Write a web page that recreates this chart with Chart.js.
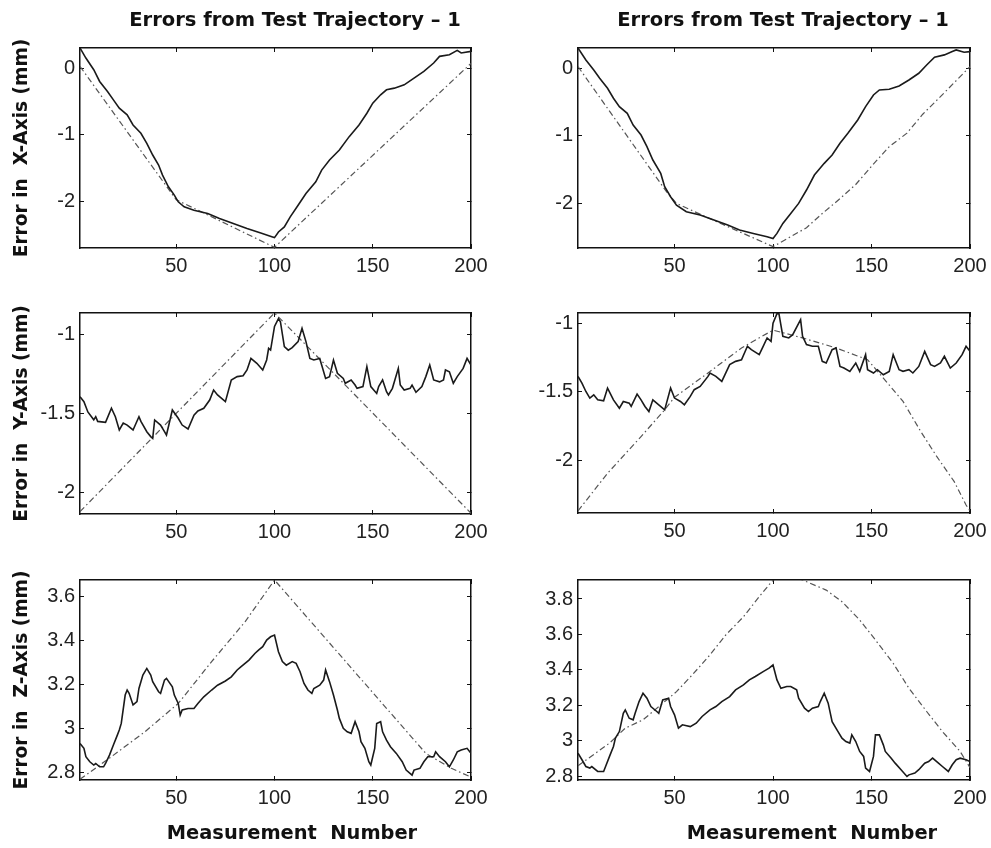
<!DOCTYPE html>
<html>
<head>
<meta charset="utf-8">
<script src="https://cdn.jsdelivr.net/npm/chart.js@4.4.1/dist/chart.umd.min.js"></script>
<style>
  html, body { margin: 0; padding: 0; background: #fff; }
  #fig { position: relative; width: 991px; height: 848px; overflow: hidden; }
  canvas { position: absolute; }
  .lbl { position: absolute; font-family: 'DejaVu Sans', sans-serif; font-weight: bold; color: #111;
         white-space: pre; transform: translate(-50%, -50%); line-height: 1; }
</style>
</head>
<body>
<div id="fig">
  <canvas id="xLeft"></canvas>
  <canvas id="xRight"></canvas>
  <canvas id="yLeft"></canvas>
  <canvas id="yRight"></canvas>
  <canvas id="zLeft"></canvas>
  <canvas id="zRight"></canvas>
  <div class="lbl" style="left:295px; top:20px; font-size:19.5px">Errors from Test Trajectory – 1</div>
  <div class="lbl" style="left:783px; top:20px; font-size:19.5px">Errors from Test Trajectory – 1</div>
  <div class="lbl" style="left:292px; top:833px; font-size:19.4px">Measurement  Number</div>
  <div class="lbl" style="left:812px; top:833px; font-size:19.4px">Measurement  Number</div>
</div>
<script>
// measurement number ticks (shared by all panels)
const measurementTicks = [50, 100, 150, 200];
const errXTicks = [-2, -1, 0];
const errYTicks = [-2, -1.5, -1];
const errZTicksLeft = [2.8, 3, 3.2, 3.4, 3.6];
const errZTicksRight = [2.8, 3, 3.2, 3.4, 3.6, 3.8];

const errXMeasuredLeft = [[1,0.3],[4,0.15],[8,-0.025],[11,-0.2],[15,-0.35],[18,-0.475],[21,-0.6],[25,-0.7],[28,-0.85],[32,-0.975],
  [35,-1.125],[38,-1.3],[41,-1.45],[43,-1.6],[46,-1.775],[49,-1.9],[51,-2.0],[54,-2.075],[59,-2.125],[66,-2.175],[72,-2.25],
  [79,-2.325],[86,-2.4],[93,-2.465],[99,-2.525],[100,-2.535],[102,-2.45],[105,-2.375],[108,-2.225],[112,-2.05],[116,-1.875],
  [121,-1.7],[124,-1.525],[128,-1.375],[133,-1.225],[138,-1.025],[143,-0.85],[147,-0.675],[150,-0.525],[154,-0.4],[157,-0.325],
  [161,-0.3],[166,-0.25],[171,-0.15],[176,-0.05],[181,0.075],[184,0.175],[189,0.2],[193,0.265],[195,0.225],[200,0.25]];
const errXReferenceLeft = [[1,0.025],[50,-1.97],[60,-2.11],[100,-2.68],[200,0.07]];

const errXMeasuredRight = [[1,0.3],[5,0.123],[9,-0.025],[12,-0.148],[16,-0.296],[19,-0.444],[22,-0.568],[26,-0.667],[29,-0.84],
  [33,-0.988],[36,-1.16],[39,-1.358],[43,-1.556],[45,-1.753],[48,-1.901],[51,-2.025],[56,-2.123],[63,-2.173],[70,-2.247],
  [77,-2.321],[83,-2.395],[90,-2.444],[97,-2.494],[100,-2.519],[102,-2.444],[105,-2.296],[109,-2.148],[113,-2.0],[117,-1.802],
  [121,-1.58],[126,-1.407],[130,-1.284],[134,-1.111],[138,-0.963],[143,-0.765],[147,-0.568],[151,-0.395],[154,-0.321],
  [159,-0.311],[164,-0.262],[169,-0.173],[174,-0.074],[178,0.049],[182,0.163],[187,0.198],[191,0.247],[193,0.272],[197,0.237],[200,0.247]];
const errXReferenceRight = [[1,0.025],[46,-1.83],[51,-2.0],[66,-2.2],[83,-2.42],[100,-2.64],[117,-2.36],[125,-2.15],[134,-1.93],
  [142,-1.72],[150,-1.45],[159,-1.16],[168,-0.96],[176,-0.68],[185,-0.42],[200,0.025]];

const errYMeasuredLeft = [[1,-1.394],[3,-1.425],[5,-1.49],[8,-1.54],[9,-1.52],[10,-1.55],[14,-1.556],[17,-1.467],[19,-1.52],
  [21,-1.604],[23,-1.56],[25,-1.573],[28,-1.604],[31,-1.52],[32,-1.55],[35,-1.615],[37,-1.646],[38,-1.657],[39,-1.541],
  [42,-1.573],[44,-1.615],[45,-1.636],[48,-1.478],[51,-1.53],[53,-1.573],[56,-1.598],[59,-1.51],[61,-1.484],[64,-1.467],
  [67,-1.415],[69,-1.352],[71,-1.383],[75,-1.425],[78,-1.288],[81,-1.267],[84,-1.261],[86,-1.225],[88,-1.152],[91,-1.183],
  [94,-1.225],[96,-1.162],[97,-1.088],[98,-1.099],[100,-0.95],[102,-0.9],[103,-0.92],[105,-1.078],[107,-1.1],[109,-1.084],
  [112,-1.046],[114,-0.962],[116,-1.046],[118,-1.152],[120,-1.162],[123,-1.152],[124,-1.194],[126,-1.278],[128,-1.267],
  [130,-1.162],[132,-1.246],[135,-1.278],[136,-1.309],[139,-1.288],[141,-1.32],[142,-1.341],[145,-1.33],[147,-1.204],
  [149,-1.33],[152,-1.373],[153,-1.33],[155,-1.288],[157,-1.362],[158,-1.383],[160,-1.341],[163,-1.215],[164,-1.32],
  [166,-1.352],[169,-1.341],[170,-1.32],[172,-1.366],[175,-1.33],[177,-1.267],[179,-1.194],[181,-1.288],[184,-1.3],
  [186,-1.288],[187,-1.225],[189,-1.236],[191,-1.309],[193,-1.267],[196,-1.215],[198,-1.152],[200,-1.194]];
const errYReferenceLeft = [[1,-2.12],[100,-0.865],[200,-2.13]];

const errYMeasuredRight = [[1,-1.388],[3,-1.437],[5,-1.498],[7,-1.546],[9,-1.522],[11,-1.559],[14,-1.566],[16,-1.473],
  [19,-1.559],[22,-1.62],[24,-1.571],[27,-1.583],[28,-1.607],[31,-1.517],[33,-1.559],[35,-1.607],[37,-1.644],[39,-1.559],
  [42,-1.595],[45,-1.632],[48,-1.473],[50,-1.546],[53,-1.571],[55,-1.595],[58,-1.534],[60,-1.485],[63,-1.461],[67,-1.388],
  [68,-1.363],[71,-1.388],[74,-1.424],[78,-1.302],[81,-1.278],[84,-1.266],[87,-1.168],[89,-1.193],[93,-1.229],[95,-1.168],
  [97,-1.107],[99,-1.132],[100,-1.0],[102,-0.93],[103,-0.93],[105,-1.095],[108,-1.107],[110,-1.083],[114,-0.973],[115,-1.095],
  [117,-1.156],[120,-1.168],[123,-1.168],[125,-1.278],[127,-1.29],[130,-1.193],[132,-1.18],[134,-1.315],[136,-1.327],
  [139,-1.351],[142,-1.29],[144,-1.351],[147,-1.229],[148,-1.339],[151,-1.363],[153,-1.339],[156,-1.376],[159,-1.351],
  [161,-1.229],[164,-1.339],[166,-1.351],[169,-1.339],[171,-1.363],[174,-1.315],[177,-1.205],[180,-1.302],[182,-1.315],
  [185,-1.29],[187,-1.241],[190,-1.327],[193,-1.29],[196,-1.229],[198,-1.168],[200,-1.205]];
const errYReferenceRight = [[1,-2.37],[16,-2.095],[33,-1.827],[45,-1.632],[50,-1.54],[67,-1.363],[84,-1.18],[100,-1.05],
  [115,-1.107],[132,-1.18],[148,-1.266],[156,-1.4],[166,-1.57],[175,-1.79],[183,-1.97],[192,-2.156],[198,-2.327],[200,-2.37]];

const errZMeasuredLeft = [[1,2.933],[3,2.911],[4,2.873],[6,2.85],[8,2.835],[9,2.842],[11,2.827],[13,2.827],[14,2.842],[16,2.88],
  [18,2.926],[20,2.971],[21,2.994],[22,3.024],[24,3.153],[25,3.176],[26,3.161],[28,3.108],[30,3.123],[31,3.183],[33,3.244],
  [35,3.274],[37,3.244],[38,3.214],[41,3.168],[42,3.161],[44,3.221],[45,3.229],[48,3.191],[49,3.153],[51,3.115],[52,3.062],
  [53,3.085],[56,3.092],[59,3.092],[61,3.115],[64,3.145],[68,3.176],[71,3.198],[75,3.217],[78,3.236],[81,3.267],[83,3.282],
  [87,3.312],[90,3.342],[92,3.358],[94,3.373],[96,3.403],[98,3.418],[100,3.426],[102,3.35],[104,3.305],[106,3.289],[109,3.305],
  [111,3.297],[113,3.259],[115,3.206],[117,3.176],[119,3.161],[120,3.183],[123,3.198],[125,3.221],[126,3.267],[128,3.214],
  [130,3.153],[132,3.085],[133,3.047],[135,3.002],[137,2.986],[139,2.979],[141,3.032],[143,2.986],[144,2.941],[146,2.911],
  [148,2.85],[149,2.835],[151,2.911],[152,3.024],[154,3.032],[155,2.986],[157,2.948],[159,2.918],[162,2.888],[165,2.85],
  [167,2.812],[170,2.789],[171,2.812],[174,2.82],[176,2.85],[178,2.873],[181,2.873],[182,2.895],[184,2.873],[187,2.85],
  [189,2.827],[191,2.858],[193,2.895],[195,2.903],[198,2.911],[200,2.888]];
const errZReferenceLeft = [[1,2.77],[17,2.873],[34,2.986],[51,3.115],[68,3.305],[85,3.486],[100,3.676],[177,2.888],
  [190,2.82],[200,2.78]];

const errZMeasuredRight = [[1,2.931],[3,2.894],[5,2.856],[7,2.847],[8,2.856],[11,2.828],[14,2.828],[15,2.856],[17,2.913],
  [19,2.969],[20,3.016],[22,3.053],[24,3.156],[25,3.175],[27,3.128],[29,3.119],[30,3.156],[32,3.222],[34,3.269],[36,3.241],
  [38,3.194],[41,3.166],[42,3.156],[44,3.231],[47,3.241],[48,3.194],[50,3.147],[52,3.072],[54,3.091],[58,3.081],[61,3.1],
  [64,3.138],[68,3.175],[71,3.194],[74,3.222],[78,3.25],[81,3.288],[85,3.316],[88,3.344],[91,3.363],[95,3.391],[98,3.41],
  [100,3.428],[102,3.344],[104,3.297],[107,3.307],[109,3.307],[112,3.288],[113,3.241],[116,3.185],[118,3.166],[120,3.185],
  [123,3.194],[124,3.222],[126,3.269],[128,3.213],[130,3.109],[133,3.053],[135,3.016],[137,2.997],[139,2.988],[140,3.034],
  [142,2.997],[144,2.941],[146,2.913],[147,2.847],[149,2.828],[151,2.913],[152,3.034],[154,3.034],[156,2.978],[157,2.941],
  [160,2.903],[162,2.875],[165,2.838],[168,2.8],[169,2.809],[172,2.819],[174,2.838],[177,2.875],[179,2.884],[181,2.903],
  [184,2.875],[186,2.856],[189,2.828],[191,2.866],[193,2.894],[195,2.903],[198,2.894],[200,2.884]];
const errZReferenceRight = [[1,2.86],[17,2.988],[25,3.072],[34,3.119],[46,3.231],[51,3.278],[59,3.372],[68,3.485],[76,3.597],
  [85,3.7],[93,3.813],[100,3.907],[108,3.93],[115,3.907],[127,3.85],[135,3.785],[144,3.682],[152,3.569],[161,3.438],
  [169,3.297],[178,3.166],[186,3.053],[195,2.941],[200,2.85]];

const toXY = pairs => pairs.map(([x, y]) => ({ x, y }));

const tickFont = { family: "'Liberation Sans', Arial, sans-serif", size: 20 };

function fixFit(w, h) {
  return axis => {
    if (w !== null) axis.width = w;
    if (h !== null) axis.height = h;
    axis.paddingLeft = axis.paddingRight = axis.paddingTop = axis.paddingBottom = 0;
  };
}
const setTicks = vals => axis => { axis.ticks = vals.map(value => ({ value })); };

function makePanel(id, p) {
  const cv = document.getElementById(id);
  cv.width = p.w; cv.height = p.h;
  cv.style.left = p.left + 'px'; cv.style.top = p.top + 'px';

  const frame = { display: true, color: '#111', width: 1.5 };
  const inwardTicks = { drawOnChartArea: false, drawTicks: true, tickLength: -4, color: '#111', lineWidth: 1 };

  new Chart(cv, {
    type: 'line',
    data: {
      datasets: [
        { data: toXY(p.measured), borderColor: '#1a1a1a', borderWidth: 1.6, pointRadius: 0, tension: 0 },
        { data: toXY(p.reference), borderColor: '#555', borderWidth: 1.2, borderDash: [6, 3, 1.5, 3], pointRadius: 0, tension: 0 }
      ]
    },
    options: {
      responsive: false,
      animation: false,
      devicePixelRatio: 1,
      layout: { padding: { left: 0, right: p.padRight, top: p.padTop, bottom: 0 } },
      plugins: { legend: { display: false }, tooltip: { enabled: false } },
      scales: {
        x: {
          type: 'linear', position: 'bottom', min: 1, max: 200,
          afterBuildTicks: setTicks(measurementTicks), afterFit: fixFit(null, p.xHeight),
          ticks: { font: tickFont, color: '#222', padding: 10, maxRotation: 0, autoSkip: false, callback: v => String(v) },
          grid: inwardTicks, border: frame
        },
        x2: {
          type: 'linear', position: 'top', min: 1, max: 200,
          afterBuildTicks: setTicks(measurementTicks), afterFit: fixFit(null, 0),
          ticks: { display: false }, grid: inwardTicks, border: frame
        },
        y: {
          type: 'linear', position: 'left', min: p.yMin, max: p.yMax,
          afterBuildTicks: setTicks(p.yTicks), afterFit: fixFit(p.yWidth, null),
          ticks: { font: tickFont, color: '#222', padding: 9, callback: v => String(v) },
          grid: inwardTicks, border: frame,
          title: p.yTitle ? {
            display: true, text: p.yTitle, color: '#111',
            font: { family: "'DejaVu Sans', sans-serif", weight: 'bold', size: 18.6 },
            padding: { top: 11, bottom: 0 }
          } : { display: false }
        },
        y2: {
          type: 'linear', position: 'right', min: p.yMin, max: p.yMax,
          afterBuildTicks: setTicks(p.yTicks), afterFit: fixFit(0, null),
          ticks: { display: false }, grid: inwardTicks, border: frame
        }
      }
    }
  });
}

makePanel('xLeft', { left: 0, top: 0, w: 495, h: 290, padTop: 48, padRight: 24, yWidth: 80, xHeight: 42,
  yMin: -2.69, yMax: 0.30, yTicks: errXTicks, yTitle: 'Error in  X-Axis (mm)',
  measured: errXMeasuredLeft, reference: errXReferenceLeft });
makePanel('xRight', { left: 495, top: 0, w: 496, h: 290, padTop: 48, padRight: 21, yWidth: 83, xHeight: 42,
  yMin: -2.66, yMax: 0.30, yTicks: errXTicks,
  measured: errXMeasuredRight, reference: errXReferenceRight });
makePanel('yLeft', { left: 0, top: 290, w: 495, h: 270, padTop: 23, padRight: 24, yWidth: 80, xHeight: 46,
  yMin: -2.135, yMax: -0.865, yTicks: errYTicks, yTitle: 'Error in  Y-Axis (mm)',
  measured: errYMeasuredLeft, reference: errYReferenceLeft });
makePanel('yRight', { left: 495, top: 290, w: 496, h: 270, padTop: 23, padRight: 21, yWidth: 83, xHeight: 47,
  yMin: -2.385, yMax: -0.925, yTicks: errYTicks,
  measured: errYMeasuredRight, reference: errYReferenceRight });
makePanel('zLeft', { left: 0, top: 560, w: 495, h: 288, padTop: 20, padRight: 24, yWidth: 80, xHeight: 68,
  yMin: 2.767, yMax: 3.676, yTicks: errZTicksLeft, yTitle: 'Error in  Z-Axis (mm)',
  measured: errZMeasuredLeft, reference: errZReferenceLeft });
makePanel('zRight', { left: 495, top: 560, w: 496, h: 288, padTop: 20, padRight: 21, yWidth: 83, xHeight: 68,
  yMin: 2.78, yMax: 3.907, yTicks: errZTicksRight,
  measured: errZMeasuredRight, reference: errZReferenceRight });
</script>
</body>
</html>
